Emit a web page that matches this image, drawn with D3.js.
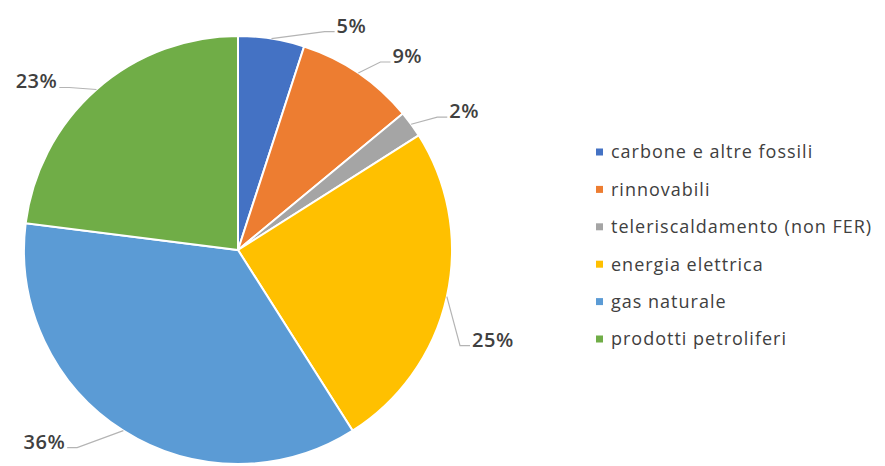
<!DOCTYPE html>
<html>
<head>
<meta charset="utf-8">
<script src="https://cdn.jsdelivr.net/npm/d3@7"></script>
<style>
  body { margin: 0; background: #fff; }
  svg { display: block; }
</style>
</head>
<body>
<svg id="chart"></svg>
<script>
const categories = ["carbone e altre fossili", "rinnovabili", "teleriscaldamento (non FER)", "energia elettrica", "gas naturale", "prodotti petroliferi"];
const shares = [5, 9, 2, 25, 36, 23];
const colors = ["#4472C4", "#ED7D31", "#A5A5A5", "#FFC000", "#5B9BD5", "#70AD47"];

// hand-placed label offsets from the arc edge (dx, dy), like the dragged labels in the original
const labelNudge = [[80, -13], [49, -17], [53, -13], [46, 43], [-79, 11], [-60, -8]];

const w = 885;
const h = 466;
const cx = 238;
const cy = 250;
const r = 214;

const svg = d3.select("#chart").attr("width", w).attr("height", h);

const data = categories.map((c, i) => ({ label: c, value: shares[i], color: colors[i], i }));

const pie = d3.pie().value((d) => d.value).sort(null);
const arc = d3.arc().innerRadius(0).outerRadius(r);
const arcs = pie(data);

const g = svg.append("g").attr("transform", `translate(${[cx, cy]})`);

g.selectAll("path")
.data(arcs)
.join("path")
.attr("d", arc)
.attr("fill", (d) => d.data.color)
.attr("stroke", "#fff")
.attr("stroke-width", 2);

// labels with leader lines
arcs.forEach((a, i) => {
    const mid = (a.startAngle + a.endAngle) / 2;
    const ex = r * Math.sin(mid);
    const ey = -r * Math.cos(mid);
    const lx = ex + labelNudge[i][0];
    const ly = ey + labelNudge[i][1];
    const right = lx > ex;
    const txt = g.append("text")
    .attr("x", lx)
    .attr("y", ly)
    .attr("dy", "0.35em")
    .attr("text-anchor", "middle")
    .attr("font-family", "Open Sans, sans-serif")
    .attr("font-weight", 600)
    .attr("font-size", 20)
    .attr("letter-spacing", 0.5)
    .attr("fill", "#404040")
    .text(a.data.value + "%");
    const tw = txt.node().getComputedTextLength();
    const endX = right ? lx - tw / 2 - 2 : lx + tw / 2 + 2;
    const elbow = right ? endX - 10 : endX + 10;
    g.insert("polyline", "text")
    .attr("points", [[ex, ey], [elbow, ly + 6], [endX, ly + 6]].map((p) => p.join(",")).join(" "))
    .attr("fill", "none")
    .attr("stroke", "#b4b4b4")
    .attr("stroke-width", 1.2);
});

// legend
const legendY = d3.scalePoint().domain(categories).range([152, 339]);

const legend = svg.append("g")
.selectAll("g")
.data(data)
.join("g")
.attr("transform", (d) => `translate(596, ${legendY(d.label)})`);

legend.append("rect")
.attr("x", 0)
.attr("y", -3.5)
.attr("width", 7)
.attr("height", 7)
.attr("fill", (d) => d.color);

legend.append("text")
.attr("x", 15)
.attr("dy", "0.35em")
.attr("font-family", "Open Sans, sans-serif")
.attr("font-size", 18)
.attr("letter-spacing", 1)
.attr("fill", "#404040")
.text((d) => d.label);
</script>
</body>
</html>
